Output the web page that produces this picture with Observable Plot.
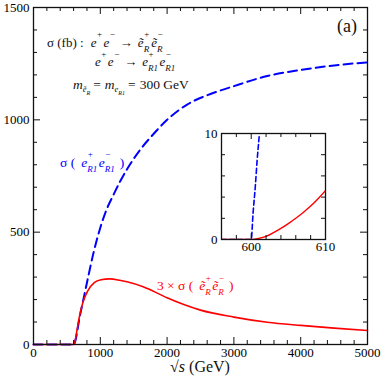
<!DOCTYPE html>
<html><head><meta charset="utf-8">
<script src="https://cdn.jsdelivr.net/npm/d3@7"></script>
<script src="https://cdn.jsdelivr.net/npm/@observablehq/plot@0.6"></script>
<style>
html,body{margin:0;padding:0;background:#fff;}
#wrap{position:relative;width:382px;height:382px;font-family:"Liberation Serif",serif;}
#main{position:absolute;left:0;top:0;}
#inset{position:absolute;left:186px;top:118px;}
svg text, svg tspan{white-space:pre;}
</style></head><body>
<div id="wrap"><div id="main"></div><div id="inset"></div></div>
<script>
// ---- data ----
const blueX = [0, 600, 700, 800, 900, 1000, 1100, 1200, 1300, 1400, 1600, 1800, 2000, 2300, 2650, 3000, 3500, 4000, 4500, 5000];
const blueY = [0, 0, 135, 275, 410, 520, 605, 668, 728, 780, 868, 938, 1000, 1068, 1115, 1150, 1195, 1222, 1242, 1256];
const redX = [0, 600, 610, 625, 640, 660, 690, 740, 810, 910, 1010, 1140, 1290, 1400, 1650, 1900, 2000, 2250, 2500, 3000, 3500, 4000, 4500, 5000];
const redY = [0, 0, 4.6, 18, 45, 80, 128, 188, 238, 275, 288, 292, 286, 279, 256, 222, 208, 178, 153, 122, 99, 85, 73, 62];
const insetBlueX = [596, 600, 600.25, 600.55, 600.8, 601.1, 601.4];
const insetBlueY = [0, 0, 2.5, 5, 7.5, 10, 13];
const insetRedX = [596, 600, 601, 602, 603, 604, 605, 606, 607, 608, 609, 610];
const insetRedY = [0, 0, 0.1, 0.3, 0.65, 1.05, 1.5, 2.0, 2.55, 3.15, 3.85, 4.6];
const xTickLabels = [0, 1000, 2000, 3000, 4000, 5000];
const yTickLabels = [0, 500, 1000, 1500];
const insetXTickLabels = [600, 610];
const insetYTickLabels = [0, 10];

const FONT = "Liberation Serif";
const BLUE = "#0000ff", RED = "#ff0000", INK = "#111";

// ---- main plot ----
const W = 382, H = 382, mL = 33, mR = 15, mT = 7, mB = 38;
const iW = W - mL - mR, iH = H - mT - mB;
const blue = blueX.map((x, i) => ({x, y: blueY[i]}));
const red = redX.map((x, i) => ({x, y: redY[i]}));
const xMinor = d3.range(0, 5001, 200).filter(v => v % 1000 !== 0);
const yMinor = d3.range(0, 1501, 100).filter(v => v % 500 !== 0);

function frameTicks(xMaj, xMin, yMaj, yMin, innerW, innerH, lMaj, lMin, sw) {
  const o = {stroke: INK, strokeWidth: sw};
  return [
    Plot.tickX(xMaj, {x: d => d, insetTop: innerH - lMaj, ...o}),
    Plot.tickX(xMin, {x: d => d, insetTop: innerH - lMin, ...o}),
    Plot.tickX(xMaj, {x: d => d, insetBottom: innerH - lMaj, ...o}),
    Plot.tickX(xMin, {x: d => d, insetBottom: innerH - lMin, ...o}),
    Plot.tickY(yMaj, {y: d => d, insetRight: innerW - lMaj, ...o}),
    Plot.tickY(yMin, {y: d => d, insetRight: innerW - lMin, ...o}),
    Plot.tickY(yMaj, {y: d => d, insetLeft: innerW - lMaj, ...o}),
    Plot.tickY(yMin, {y: d => d, insetLeft: innerW - lMin, ...o})
  ];
}

const main = Plot.plot({
  width: W, height: H,
  marginLeft: mL, marginRight: mR, marginTop: mT, marginBottom: mB,
  style: {fontFamily: FONT, background: "white", overflow: "visible"},
  x: {domain: [0, 5000]},
  y: {domain: [0, 1500]},
  marks: [
    Plot.line(blue, {x: "x", y: "y", stroke: BLUE, strokeWidth: 2, strokeDasharray: "9,5", curve: "monotone-x"}),
    Plot.line(red, {x: "x", y: "y", stroke: RED, strokeWidth: 1.6, curve: "monotone-x"}),
    ...frameTicks(xTickLabels, xMinor, yTickLabels, yMinor, iW, iH, 7, 4, 1),
    Plot.frame({stroke: INK, strokeWidth: 1.3}),
    Plot.axisX({ticks: xTickLabels, tickSize: 0, tickPadding: 3, fontSize: 13, tickFormat: d => String(d), label: null}),
    Plot.axisY({ticks: yTickLabels, tickSize: 0, tickPadding: 4, fontSize: 13, tickFormat: d => String(d), label: null})
  ]
});
document.getElementById("main").appendChild(main);

// ---- inset ----
const IW = 150, IH = 140, imL = 35, imR = 11, imT = 15, imB = 19;
const iiW = IW - imL - imR, iiH = IH - imT - imB;
const iBlue = insetBlueX.map((x, i) => ({x, y: insetBlueY[i]}));
const iRed = insetRedX.map((x, i) => ({x, y: insetRedY[i]}));
const inset = Plot.plot({
  width: IW, height: IH,
  marginLeft: imL, marginRight: imR, marginTop: imT, marginBottom: imB,
  style: {fontFamily: FONT, background: "transparent", overflow: "visible"},
  x: {domain: [596, 610]},
  y: {domain: [0, 10]},
  marks: [
    Plot.line(iBlue, {x: "x", y: "y", stroke: BLUE, strokeWidth: 1.6, strokeDasharray: "5,3", curve: "monotone-x", clip: true}),
    Plot.line(iRed, {x: "x", y: "y", stroke: RED, strokeWidth: 1.4, curve: "monotone-x", clip: true}),
    ...frameTicks(insetXTickLabels, [596, 598, 602, 604, 606, 608], insetYTickLabels, [2, 4, 6, 8], iiW, iiH, 6, 4, 1),
    Plot.frame({stroke: INK, strokeWidth: 1.3}),
    Plot.axisX({ticks: insetXTickLabels, tickSize: 0, tickPadding: 2, fontSize: 13, tickFormat: d => String(d), label: null}),
    Plot.axisY({ticks: insetYTickLabels, tickSize: 0, tickPadding: 4, fontSize: 13, tickFormat: d => String(d), label: null})
  ]
});
document.getElementById("inset").appendChild(inset);

// ---- annotations (placed through the main plot's scales) ----
function scaleFn(plot, name) {
  const s = plot.scale(name);
  return s.apply ? (v => s.apply(v)) : d3.scaleLinear(s.domain, s.range);
}
const sx = scaleFn(main, "x"), sy = scaleFn(main, "y");
const svg = d3.select(main);

function rich(xv, yv, items, color, size) {
  const x0 = sx(xv), y0 = sy(yv);
  const g = svg.append("g").attr("fill", color).attr("font-family", FONT).attr("text-anchor", "start");
  let cx = x0;
  const put = (it, px) => {
    const t = g.append("text").attr("x", px).attr("y", y0 + (it.dy || 0))
      .attr("font-size", it.size || size).attr("text-anchor", it.anchor || "start").text(it.t);
    if (it.it) t.attr("font-style", "italic");
    return t.node().getComputedTextLength();
  };
  for (const it of items) {
    if (it.sp != null) { cx += it.sp; continue; }
    if (it.stack) {
      let m = 0;
      for (const s of it.stack) m = Math.max(m, put(s, cx + (s.dx || 0)) + (s.dx || 0));
      cx += m; continue;
    }
    cx += put(it, cx + (it.dx || 0)) + (it.dx || 0);
  }
  return g;
}
const SS = 9;
const sup = t => ({t, size: SS, dy: -9.5, dx: 0.5});
const sub = t => ({t, size: SS, dy: 5, it: true});

// line 1
rich(210, 1322, [
  {t: "σ (fb) :"}, {sp: 7},
  {t: "e", it: true}, {stack: [sup("+")]}, {sp: 1.5},
  {t: "e", it: true}, {stack: [sup("−")]}, {sp: 5},
  {t: "→"}, {sp: 5},
  {t: "ẽ", it: true}, {stack: [sup("+"), sub("R")]}, {sp: 2},
  {t: "ẽ", it: true}, {stack: [sup("−"), sub("R")]}
], INK, 13);
// line 2
rich(928, 1237, [
  {t: "e", it: true}, {stack: [sup("+")]}, {sp: 1.5},
  {t: "e", it: true}, {stack: [sup("−")]}, {sp: 5},
  {t: "→"}, {sp: 5},
  {t: "e", it: true}, {stack: [sup("+"), sub("R1")]}, {sp: 1.5},
  {t: "e", it: true}, {stack: [sup("−"), sub("R1")]}
], INK, 13);
// line 3
rich(599, 1135, [
  {t: "m", it: true}, {t: "ẽ", it: true, size: 8.5, dy: 3}, {t: "R", it: true, size: 6, dy: 5.5},
  {sp: 3}, {t: "="}, {sp: 4},
  {t: "m", it: true}, {t: "e", it: true, size: 8.5, dy: 3}, {t: "R1", it: true, size: 6, dy: 5.5},
  {sp: 3}, {t: "="}, {sp: 4}, {t: "300 GeV"}
], INK, 13.5);
// panel tag
rich(4850, 1389, [{t: "(a)", anchor: "end"}], INK, 18);
// blue label
rich(404, 788, [
  {t: "σ ("}, {sp: 6},
  {t: "e", it: true}, {stack: [sup("+"), sub("R1")]}, {sp: 1.5},
  {t: "e", it: true}, {stack: [sup("−"), sub("R1")]},
  {sp: 5}, {t: ")"}
], BLUE, 13.5);
// red label
rich(1856, 240, [
  {t: "3 × σ ("}, {sp: 6},
  {t: "ẽ", it: true}, {stack: [sup("+"), sub("R")]}, {sp: 1.5},
  {t: "ẽ", it: true}, {stack: [sup("−"), sub("R")]},
  {sp: 5}, {t: ")"}
], RED, 13.5);
// x axis title
const xt = svg.append("text").attr("x", sx(2500)).attr("y", sy(-125)).attr("text-anchor", "middle")
  .attr("font-family", FONT).attr("font-size", 16).attr("fill", INK);
xt.append("tspan").text("√");
xt.append("tspan").attr("font-style", "italic").text("s");
xt.append("tspan").text(" (GeV)");
</script>
</body></html>
